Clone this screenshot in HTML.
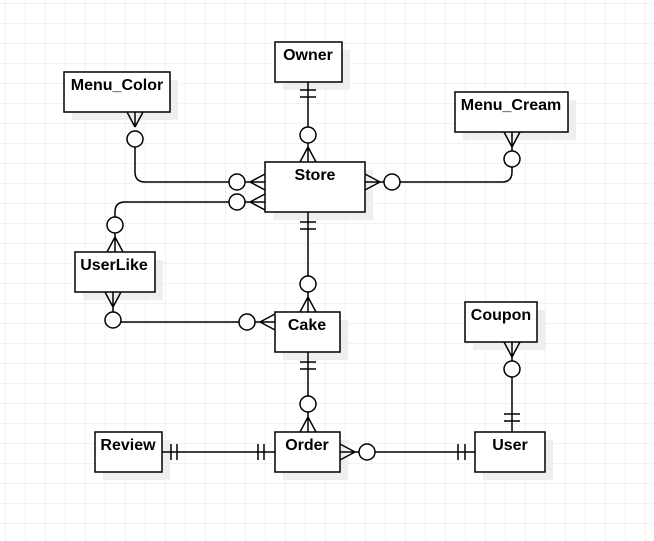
<!DOCTYPE html>
<html><head><style>
html,body{margin:0;padding:0;background:#fff;}
svg{display:block;}
text{font-family:"Liberation Sans",Arial,sans-serif;font-weight:bold;font-size:16px;fill:#000;}
</style></head><body>
<svg width="654" height="541" viewBox="0 0 654 541" xmlns="http://www.w3.org/2000/svg">
<defs>
<pattern id="g" x="5" y="3" width="20" height="20" patternUnits="userSpaceOnUse">
<path d="M0 0H20M0 0V20" stroke="#e6e6e6" stroke-width="1" fill="none"/>
</pattern>
</defs>
<rect width="654" height="541" fill="url(#g)"/>
<g fill="#eeeeee">
<rect x="283" y="50" width="67" height="40"/>
<rect x="72" y="80" width="106" height="40"/>
<rect x="273" y="170" width="100" height="50"/>
<rect x="463" y="100" width="113" height="40"/>
<rect x="83" y="260" width="80" height="40"/>
<rect x="283" y="320" width="65" height="40"/>
<rect x="103" y="440" width="67" height="40"/>
<rect x="283" y="440" width="65" height="40"/>
<rect x="473" y="310" width="72" height="40"/>
<rect x="483" y="440" width="70" height="40"/>
</g>
<g fill="#fff" stroke="#000" stroke-width="1.5">
<rect x="275" y="42" width="67" height="40"/>
<rect x="64" y="72" width="106" height="40"/>
<rect x="265" y="162" width="100" height="50"/>
<rect x="455" y="92" width="113" height="40"/>
<rect x="75" y="252" width="80" height="40"/>
<rect x="275" y="312" width="65" height="40"/>
<rect x="95" y="432" width="67" height="40"/>
<rect x="275" y="432" width="65" height="40"/>
<rect x="465" y="302" width="72" height="40"/>
<rect x="475" y="432" width="70" height="40"/>
</g>
<g text-anchor="middle">
<text x="308" y="60">Owner</text>
<text x="117" y="90">Menu_Color</text>
<text x="315" y="180">Store</text>
<text x="511" y="110">Menu_Cream</text>
<text x="114" y="270">UserLike</text>
<text x="307" y="330">Cake</text>
<text x="128" y="450">Review</text>
<text x="307" y="450">Order</text>
<text x="501" y="320">Coupon</text>
<text x="510" y="450">User</text>
</g>
<g fill="none" stroke="#000" stroke-width="1.5">
<path d="M308 82V127M300 90H316M300 97H316"/>
<circle cx="308" cy="135" r="8" fill="#fff"/>
<path d="M308 143V162M308 147L300 162M308 147L316 162"/>
<path d="M135 112V127M135 127L127 112M135 127L143 112"/>
<circle cx="135" cy="139" r="8" fill="#fff"/>
<path d="M135 147V172Q135 182 145 182H229"/>
<circle cx="237" cy="182" r="8" fill="#fff"/>
<path d="M245 182H265M250 182L265 174M250 182L265 190"/>
<circle cx="237" cy="202" r="8" fill="#fff"/>
<path d="M245 202H265M250 202L265 194M250 202L265 210"/>
<path d="M229 202H125Q115 202 115 212V217"/>
<circle cx="115" cy="225" r="8" fill="#fff"/>
<path d="M115 233V252M115 237L107 252M115 237L123 252"/>
<path d="M365 182H384M380 182L365 174M380 182L365 190"/>
<circle cx="392" cy="182" r="8" fill="#fff"/>
<path d="M400 182H502Q512 182 512 172V167"/>
<circle cx="512" cy="159" r="8" fill="#fff"/>
<path d="M512 151V132M512 147L504 132M512 147L520 132"/>
<path d="M308 212V276M300 222H316M300 229H316"/>
<circle cx="308" cy="284" r="8" fill="#fff"/>
<path d="M308 292V312M308 297L300 312M308 297L316 312"/>
<path d="M113 292V312M113 307L105 292M113 307L121 292"/>
<circle cx="113" cy="320" r="8" fill="#fff"/>
<path d="M121 322H239"/>
<circle cx="247" cy="322" r="8" fill="#fff"/>
<path d="M255 322H275M260 322L275 314M260 322L275 330"/>
<path d="M308 352V396M300 362H316M300 369H316"/>
<circle cx="308" cy="404" r="8" fill="#fff"/>
<path d="M308 412V432M308 417L300 432M308 417L316 432"/>
<path d="M162 452H275M171 444V460M177 444V460M258 444V460M264 444V460"/>
<path d="M340 452H359M355 452L340 444M355 452L340 460"/>
<circle cx="367" cy="452" r="8" fill="#fff"/>
<path d="M375 452H475M458 444V460M465 444V460"/>
<path d="M512 342V361M512 357L504 342M512 357L520 342"/>
<circle cx="512" cy="369" r="8" fill="#fff"/>
<path d="M512 377V432M504 414H520M504 421H520"/>
</g>
</svg>
</body></html>
